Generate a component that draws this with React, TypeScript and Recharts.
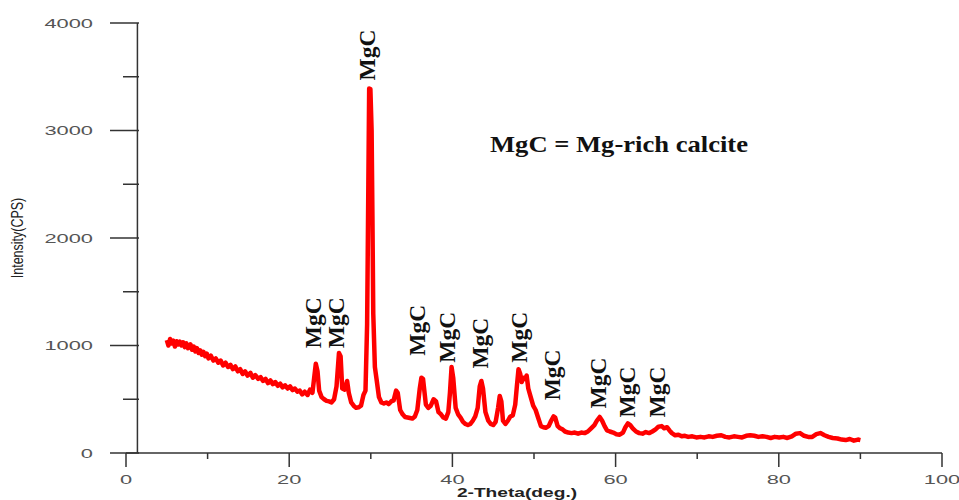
import React from 'react';
import { ComposedChart, Line, Scatter, XAxis, YAxis, ReferenceLine, Label } from 'recharts';

// 2-Theta (deg.) sample positions
const twoTheta = [
  5.0, 5.2, 5.4, 5.6, 5.8, 6.0, 6.2, 6.4, 6.6, 6.8,
  7.0, 7.2, 7.4, 7.6, 7.9, 8.1, 8.3, 8.5, 8.7, 8.9,
  9.1, 9.3, 9.5, 9.7, 9.9, 10.1, 10.4, 10.7, 11.0, 11.3,
  11.6, 11.9, 12.2, 12.5, 12.8, 13.1, 13.4, 13.7, 14.0, 14.3,
  14.6, 14.9, 15.25, 15.55, 15.85, 16.2, 16.5, 16.8, 17.1, 17.4,
  17.7, 18.0, 18.3, 18.6, 18.9, 19.2, 19.5, 19.8, 20.1, 20.4,
  20.7, 21.0, 21.3, 21.6, 21.9, 22.25, 22.55, 22.85, 23.06, 23.26,
  23.47, 23.67, 23.97, 24.28, 24.58, 24.89, 25.19, 25.5, 25.8, 26.1,
  26.3, 26.5, 26.8, 27.1, 27.3, 27.6, 27.9, 28.2, 28.5, 28.8,
  29.1, 29.35, 29.55, 29.7, 29.8, 29.95, 30.1, 30.2, 30.3, 30.5,
  30.7, 31.0, 31.3, 31.6, 31.9, 32.2, 32.5, 32.8, 33.1, 33.3,
  33.6, 33.9, 34.2, 34.5, 34.8, 35.1, 35.4, 35.7, 36.0, 36.2,
  36.4, 36.75, 37.05, 37.35, 37.7, 38.0, 38.3, 38.6, 38.9, 39.2,
  39.5, 39.7, 39.9, 40.1, 40.4, 40.7, 41.0, 41.3, 41.6, 41.9,
  42.2, 42.5, 42.8, 43.1, 43.35, 43.55, 43.75, 44.05, 44.4, 44.7,
  45.0, 45.3, 45.6, 45.8, 46.0, 46.2, 46.5, 46.8, 47.1, 47.4,
  47.7, 47.9, 48.1, 48.3, 48.5, 48.7, 48.9, 49.1, 49.3, 49.6,
  49.9, 50.2, 50.5, 50.85, 51.15, 51.45, 51.8, 52.1, 52.4, 52.6,
  52.9, 53.2, 53.5, 53.8, 54.2, 54.6, 55.0, 55.4, 55.8, 56.2,
  56.6, 57.0, 57.4, 57.7, 58.05, 58.35, 58.65, 58.95, 59.3, 59.7,
  60.1, 60.5, 60.9, 61.2, 61.5, 61.8, 62.1, 62.5, 62.9, 63.3,
  63.7, 64.1, 64.5, 64.9, 65.25, 65.65, 65.95, 66.3, 66.6, 66.9,
  67.3, 67.7, 68.1, 68.5, 68.9, 69.4, 69.9, 70.4, 70.9, 71.4,
  71.9, 72.4, 72.95, 73.45, 73.95, 74.5, 75.0, 75.5, 76.0, 76.5,
  77.0, 77.5, 78.0, 78.5, 79.0, 79.5, 80.05, 80.55, 81.05, 81.6,
  82.1, 82.6, 83.1, 83.6, 84.1, 84.6, 85.1, 85.6, 86.1, 86.6,
  87.2, 87.7, 88.2, 88.7, 89.2, 89.7, 90.0,
];

// Intensity (CPS) at each 2-Theta position
const intensity = [
  1050, 1000, 1060, 1020, 1045, 990, 1040, 1010, 1035, 1000,
  1030, 985, 1020, 975, 1010, 960, 990, 945, 975, 930,
  955, 915, 940, 900, 925, 880, 905, 860, 880, 840,
  860, 815, 840, 800, 820, 780, 805, 760, 780, 735,
  760, 720, 745, 700, 725, 690, 705, 670, 690, 650,
  675, 640, 660, 625, 645, 610, 630, 600, 620, 585,
  600, 570, 580, 545, 570, 540, 590, 560, 700, 830,
  760, 580, 520, 500, 485, 480, 470, 500, 620, 930,
  900, 600, 590, 670, 560, 470, 440, 420, 425, 440,
  540, 580, 1200, 2500, 3390, 3385, 3000, 2200, 1300, 800,
  690, 520, 470, 460, 470, 455, 480, 490, 580, 560,
  400, 360, 335, 330, 325, 320, 340, 400, 600, 700,
  690, 450, 420, 440, 500, 480, 380, 360, 330, 320,
  380, 560, 800, 700, 420, 360, 330, 290, 270, 260,
  270, 300, 340, 420, 620, 670, 600, 380, 300, 270,
  260, 290, 420, 530, 480, 300, 270, 300, 340, 350,
  450, 620, 780, 740, 660, 700, 690, 720, 600, 520,
  440, 400, 330, 250, 240, 235, 250, 300, 340, 330,
  250, 230, 220, 200, 190, 185, 190, 180, 190, 185,
  200, 230, 260, 300, 335, 300, 250, 210, 200, 190,
  175, 170, 190, 240, 275, 260, 230, 200, 185, 180,
  195, 185, 200, 220, 245, 250, 230, 240, 210, 185,
  165, 170, 155, 160, 150, 155, 145, 150, 145, 155,
  150, 160, 165, 150, 145, 155, 150, 145, 160, 165,
  160, 150, 155, 150, 140, 150, 145, 150, 140, 155,
  180, 185, 160, 150, 150, 175, 185, 165, 150, 140,
  135, 125, 120, 130, 115, 125, 120,
];

// Peak annotations
const peakTheta = [23.2, 26.1, 29.9, 36.0, 39.7, 43.7, 48.5, 52.5, 58.1, 61.7, 65.4];
const peakLabelBase = [975, 975, 3465, 905, 840, 785, 840, 490, 415, 330, 330];
const peakLabel = ['MgC', 'MgC', 'MgC', 'MgC', 'MgC', 'MgC', 'MgC', 'MgC', 'MgC', 'MgC', 'MgC'];

const xTicks = [0, 10, 20, 30, 40, 50, 60, 70, 80, 90, 100];
const yTicks = [0, 500, 1000, 1500, 2000, 2500, 3000, 3500, 4000];
const yAxisLineTheta = 1.4;

const xTitle = '2-Theta(deg.)';
const yTitle = 'Intensity(CPS)';
const legendText = 'MgC = Mg-rich calcite';

const pattern = twoTheta.map((t, k) => ({ t, i: intensity[k] }));
const annotations = peakTheta.map((t, k) => ({ t, i: peakLabelBase[k], label: peakLabel[k] }));

const AXIS = '#333';
const SANS = 'Liberation Sans, Arial, sans-serif';
const SERIF = 'Liberation Serif, Times New Roman, serif';

const YTick = (props: any) => {
  const { x, y, payload } = props;
  const major = payload.value % 1000 === 0;
  return (
    <g>
      <line x1={x - (major ? 16 : 3)} x2={x + 13} y1={y} y2={y} stroke={AXIS} strokeWidth={1.5} />
      {major && (
        <text
          transform={`translate(${x - 33},${y + 4.5}) scale(1.75,1)`}
          textAnchor="end"
          fontFamily={SANS}
          fontSize={12.5}
          fill="#555"
        >
          {payload.value}
        </text>
      )}
    </g>
  );
};

const XTick = (props: any) => {
  const { x, y, payload } = props;
  const major = payload.value % 20 === 0;
  return (
    <g>
      <line x1={x} x2={x} y1={y} y2={y + (major ? 14 : 6)} stroke={AXIS} strokeWidth={1.5} />
      {major && (
        <text
          transform={`translate(${x},${y + 30.5}) scale(1.75,1)`}
          textAnchor="middle"
          fontFamily={SANS}
          fontSize={12.5}
          fill="#555"
        >
          {payload.value}
        </text>
      )}
    </g>
  );
};

const PeakLabel = (props: any) => {
  const { cx, cy, payload } = props;
  return (
    <text
      transform={`translate(${cx + 5.5},${cy}) rotate(-90)`}
      textAnchor="start"
      fontFamily={SERIF}
      fontWeight="bold"
      fontSize={23.5}
      fill="#111"
    >
      {payload.label}
    </text>
  );
};

const XTitle = (props: any) => {
  const vb = props.viewBox;
  return (
    <g>
      <text
        transform={`translate(${vb.x + vb.width / 2 - 17},${vb.y + 43.5}) scale(1.42,1)`}
        textAnchor="middle"
        fontFamily={SANS}
        fontWeight="bold"
        fontSize={13.5}
        fill="#222"
      >
        {xTitle}
      </text>
      <text
        x={490}
        y={152}
        textLength={258}
        lengthAdjust="spacingAndGlyphs"
        fontFamily={SERIF}
        fontWeight="bold"
        fontSize={22.5}
        fill="#111"
      >
        {legendText}
      </text>
    </g>
  );
};

const YTitle = (props: any) => {
  const vb = props.viewBox;
  return (
    <text
      transform={`translate(${vb.x + 23},${vb.y + vb.height / 2}) rotate(-90) scale(1,1.35)`}
      textAnchor="middle"
      fontFamily={SANS}
      fontSize={12.5}
      fill="#222"
    >
      {yTitle}
    </text>
  );
};

export default function App() {
  return (
    <div style={{ position: 'absolute', left: 0, top: 0, width: 959, height: 500, background: '#fff' }}>
      <ComposedChart width={959} height={500} margin={{ top: 23, right: 17, bottom: 0, left: 0 }}>
        <XAxis
          dataKey="t"
          type="number"
          domain={[0, 100]}
          ticks={xTicks}
          allowDataOverflow
          height={47}
          tickSize={0}
          tickMargin={0}
          tickLine={false}
          axisLine={{ stroke: AXIS, strokeWidth: 1.5 }}
          tick={<XTick />}
          interval={0}
        >
          <Label content={<XTitle />} />
        </XAxis>
        <YAxis
          type="number"
          domain={[0, 4000]}
          ticks={yTicks}
          allowDataOverflow
          width={126}
          tickSize={0}
          tickMargin={0}
          tickLine={false}
          axisLine={false}
          tick={<YTick />}
          interval={0}
        >
          <Label content={<YTitle />} />
        </YAxis>
        <ReferenceLine x={yAxisLineTheta} stroke={AXIS} strokeWidth={1.5} />
        <Line
          data={pattern}
          dataKey="i"
          type="linear"
          stroke="#ff0000"
          strokeWidth={4.5}
          strokeLinejoin="round"
          dot={false}
          activeDot={false}
          isAnimationActive={false}
        />
        <Scatter data={annotations} dataKey="i" shape={<PeakLabel />} isAnimationActive={false} />
      </ComposedChart>
    </div>
  );
}
